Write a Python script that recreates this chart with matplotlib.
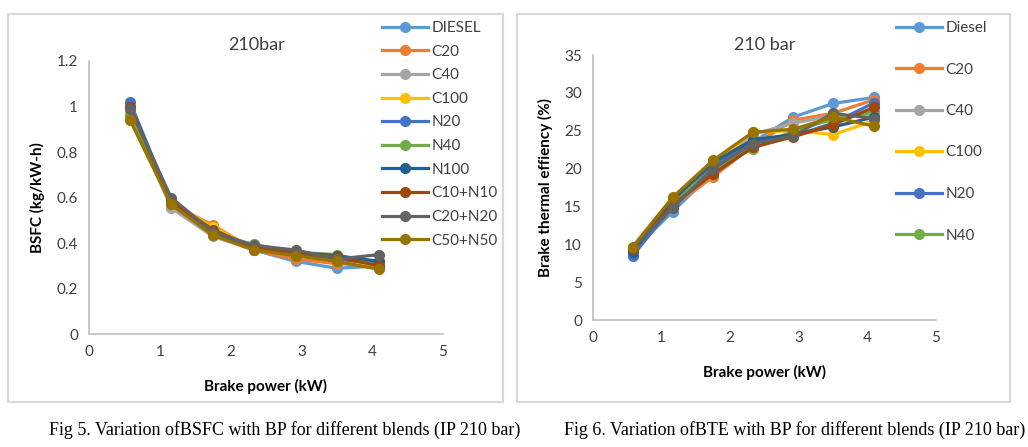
import numpy as np
import matplotlib
matplotlib.use('Agg')
import matplotlib.pyplot as plt
from matplotlib.patches import Rectangle

plt.rcParams['font.family'] = ['Lato', 'DejaVu Sans']

# brake power (kW)
bp = [0.58, 1.16, 1.75, 2.33, 2.92, 3.5, 4.1]

blends = ['DIESEL', 'C20', 'C40', 'C100', 'N20', 'N40', 'N100',
          'C10+N10', 'C20+N20', 'C50+N50']
colors = ['#5B9BD5', '#ED7D31', '#A5A5A5', '#FFC000', '#4472C4',
          '#70AD47', '#255E91', '#9E480E', '#636363', '#997300']

# BSFC (kg/kW-h)
bsfc_diesel = [1.00, 0.56, 0.44, 0.37, 0.32, 0.29, 0.30]
bsfc_c20 = [0.99, 0.57, 0.48, 0.37, 0.33, 0.31, 0.30]
bsfc_c40 = [0.98, 0.555, 0.43, 0.37, 0.35, 0.33, 0.31]
bsfc_c100 = [0.97, 0.58, 0.47, 0.38, 0.35, 0.33, 0.30]
bsfc_n20 = [1.02, 0.58, 0.45, 0.38, 0.35, 0.33, 0.31]
bsfc_n40 = [0.96, 0.57, 0.44, 0.395, 0.36, 0.35, 0.30]
bsfc_n100 = [1.00, 0.59, 0.45, 0.38, 0.36, 0.345, 0.32]
bsfc_c10n10 = [1.00, 0.58, 0.46, 0.38, 0.355, 0.34, 0.30]
bsfc_c20n20 = [0.99, 0.60, 0.45, 0.39, 0.37, 0.33, 0.35]
bsfc_c50n50 = [0.94, 0.57, 0.435, 0.37, 0.345, 0.32, 0.285]

# brake thermal efficiency (%)
bte_diesel = [9.2, 14.3, 19.5, 23.5, 26.8, 28.6, 29.4]
bte_c20 = [9.3, 15.0, 18.9, 23.0, 26.4, 27.3, 29.1]
bte_c40 = [9.4, 15.2, 20.2, 24.5, 26.0, 27.0, 27.0]
bte_c100 = [9.5, 15.5, 20.5, 24.8, 25.0, 24.5, 26.3]
bte_n20 = [8.5, 15.0, 20.3, 23.5, 24.3, 26.0, 28.7]
bte_n40 = [9.3, 15.3, 20.0, 22.6, 25.0, 26.5, 27.5]
bte_n100 = [9.0, 15.8, 20.8, 23.8, 24.5, 25.5, 26.8]
bte_c10n10 = [9.4, 15.2, 19.3, 22.8, 24.2, 25.8, 28.1]
bte_c20n20 = [9.5, 14.8, 20.0, 23.3, 24.3, 27.3, 26.6]
bte_c50n50 = [9.7, 16.2, 21.1, 24.8, 25.2, 26.8, 25.6]

bsfc = [bsfc_diesel, bsfc_c20, bsfc_c40, bsfc_c100, bsfc_n20, bsfc_n40,
        bsfc_n100, bsfc_c10n10, bsfc_c20n20, bsfc_c50n50]
bte = [bte_diesel, bte_c20, bte_c40, bte_c100, bte_n20, bte_n40,
       bte_n100, bte_c10n10, bte_c20n20, bte_c50n50]
bte_labels = ['Diesel'] + blends[1:]

fig = plt.figure(figsize=(10.28, 4.47), dpi=100)

# chart frames
for x0, x1 in [(8, 503), (517, 1010)]:
    fig.patches.append(Rectangle((x0 / 1028, 1 - 402 / 447), (x1 - x0) / 1028,
                                 (402 - 14) / 447, transform=fig.transFigure,
                                 fill=False, edgecolor='#d9d9d9', lw=1.5))


def style(ax):
    for s in ['top', 'right']:
        ax.spines[s].set_visible(False)
    for s in ['left', 'bottom']:
        ax.spines[s].set_color('#bfbfbf')
        ax.spines[s].set_linewidth(1.2)
    ax.tick_params(length=0, labelsize=11, colors='#404040', pad=8)
    ax.set_xlim(0, 5)
    ax.set_xticks(range(6))


ax1 = fig.add_axes([89 / 1028, 1 - 334.3 / 447, 354 / 1028, 273.3 / 447])
lines1 = []
for vals, lab, c in zip(bsfc, blends, colors):
    l, = ax1.plot(bp, vals, color=c, lw=2.3, marker='o', ms=7, label=lab)
    lines1.append(l)
style(ax1)
ax1.set_ylim(0, 1.2)
ax1.set_yticks(np.arange(0, 1.21, 0.2))
ax1.set_yticklabels(['0', '0.2', '0.4', '0.6', '0.8', '1', '1.2'])
ax1.set_xlabel('Brake power (kW)', fontsize=11, fontweight='bold', labelpad=14)
ax1.set_ylabel('BSFC (kg/kW-h)', fontsize=11, fontweight='bold', labelpad=8)
fig.text(257 / 1028, 1 - 45 / 447, '210bar', fontsize=13, ha='center',
         va='center', color='#404040')
ax1.legend(handles=lines1, loc='upper left', bbox_to_anchor=(382 / 1028, 1 - 21 / 447),
           bbox_transform=fig.transFigure, frameon=False, fontsize=11,
           handlelength=3.0, handletextpad=0.25, labelspacing=0.63,
           borderaxespad=0, borderpad=0, labelcolor='#404040')

ax2 = fig.add_axes([593 / 1028, 1 - 320 / 447, 343 / 1028, 265 / 447])
lines2 = []
for vals, lab, c in zip(bte, bte_labels, colors):
    l, = ax2.plot(bp, vals, color=c, lw=2.3, marker='o', ms=7, label=lab)
    lines2.append(l)
style(ax2)
ax2.set_ylim(0, 35)
ax2.set_yticks(range(0, 36, 5))
ax2.set_xlabel('Brake power (kW)', fontsize=11, fontweight='bold', labelpad=14)
ax2.set_ylabel('Brake thermal effiency (%)', fontsize=11, fontweight='bold', labelpad=8)
fig.text(765 / 1028, 1 - 45 / 447, '210 bar', fontsize=13, ha='center',
         va='center', color='#404040')
ax2.legend(handles=lines2[:6], loc='upper left', bbox_to_anchor=(896 / 1028, 1 - 21 / 447),
           bbox_transform=fig.transFigure, frameon=False, fontsize=11,
           handlelength=3.0, handletextpad=0.25, labelspacing=1.8,
           borderaxespad=0, borderpad=0, labelcolor='#404040')

fig.text(285 / 1028, 1 - 430 / 447,
         'Fig 5. Variation ofBSFC with BP for different blends (IP 210 bar)',
         fontsize=13, family='Liberation Serif', ha='center', va='center')
fig.text(795 / 1028, 1 - 430 / 447,
         'Fig 6. Variation ofBTE with BP for different blends (IP 210 bar)',
         fontsize=13, family='Liberation Serif', ha='center', va='center')

fig.savefig('out.png', dpi=100)
